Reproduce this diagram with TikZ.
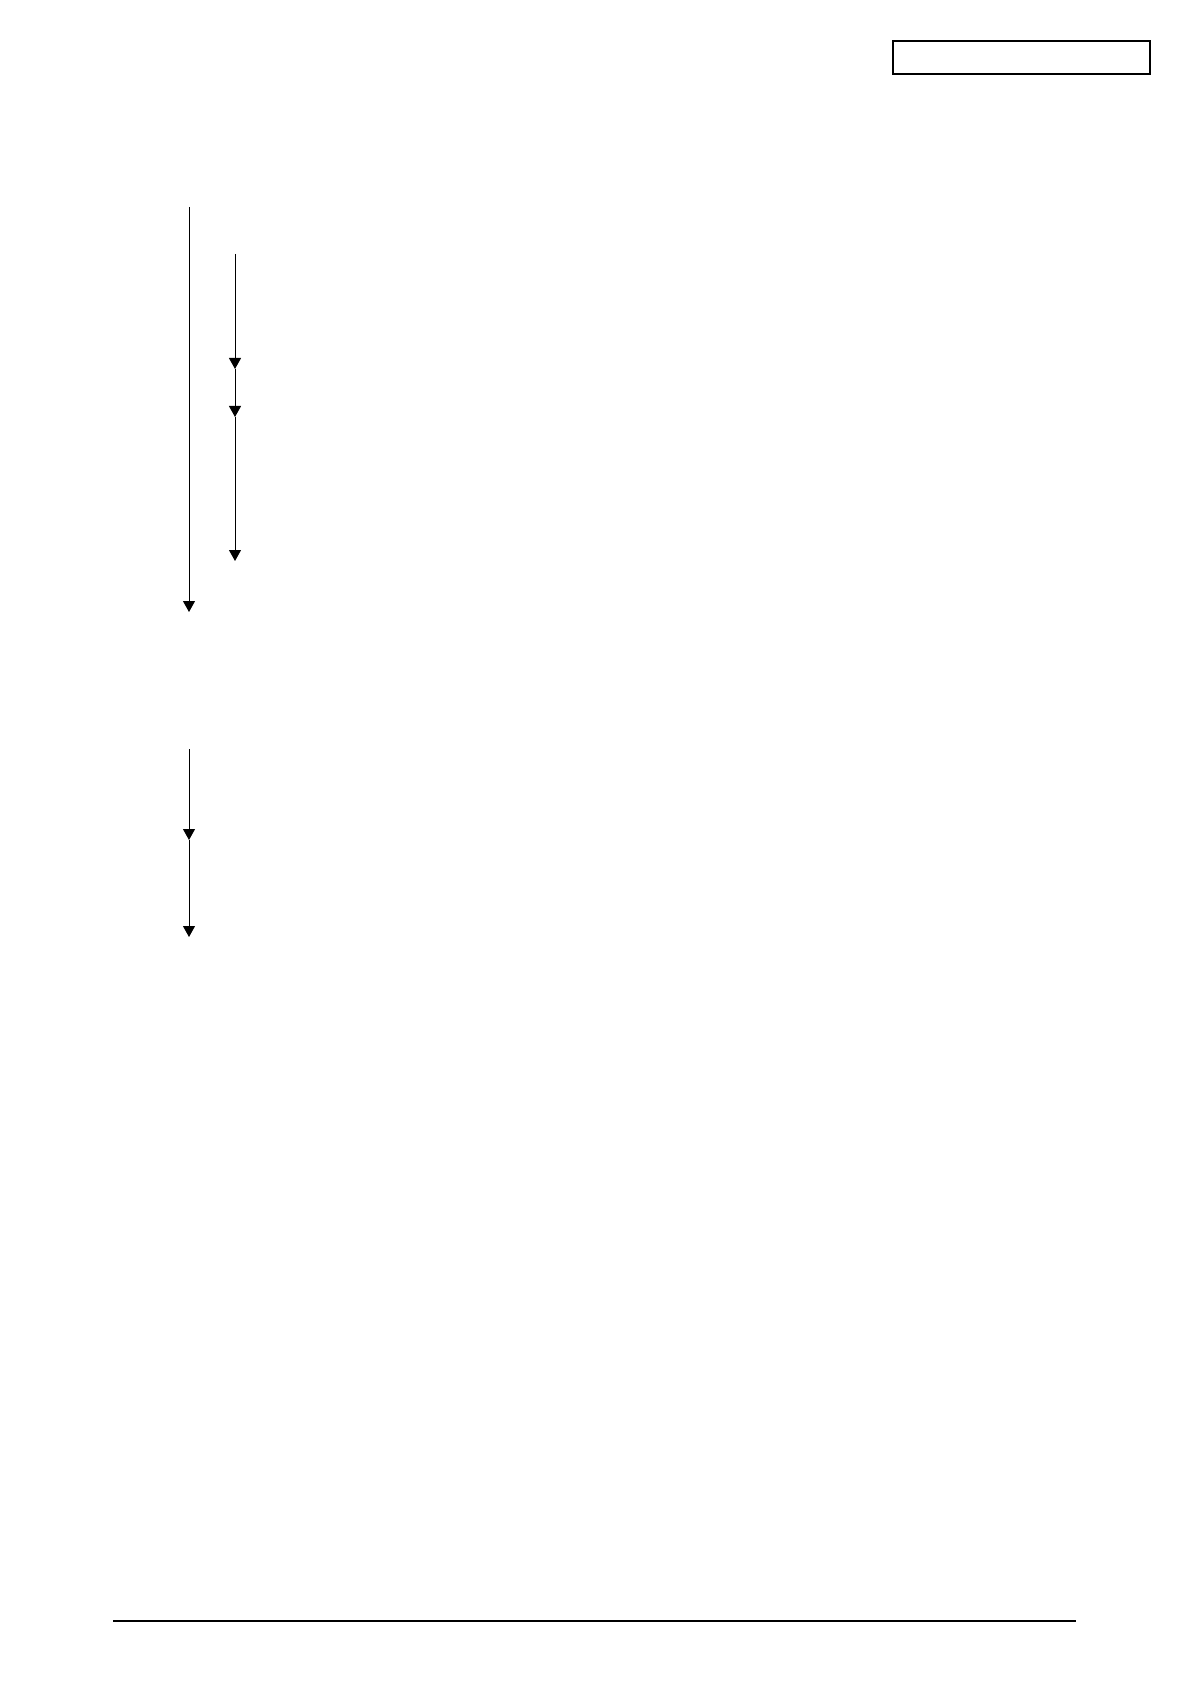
\documentclass[tikz,border=0pt]{standalone}
\usetikzlibrary{arrows.meta}
\begin{document}
\begin{tikzpicture}[x=0.5pt,y=-0.5pt]

%%%%%%%%%%%%%%%%%%%%%%
%%%	 Def géométrie  %%%
%%%%%%%%%%%%%%%%%%%%%%

\def \largeur{1190}
\def \hauteur{1684}
\def \xgauche{189}
\def \xdroite{235}
\def \ypied{1621}

%%%%%%%%%%%%%%%%%%%%%%
%%%	   Def style    %%%
%%%%%%%%%%%%%%%%%%%%%%

\def \heavy{0.7pt}
\def \light{0.5pt}

\tikzset{
  fleche/.style={line width=\light, -{Triangle[width=6pt,length=5.5pt]}},
  cartouche/.style={draw, line width=\heavy, inner sep=0pt, minimum width=128.5pt, minimum height=16.5pt}
}

\useasboundingbox (0,0) rectangle (\largeur,\hauteur);

%%%%%%%%%%%%%%%%%%%%%%
%%%	    Dessin      %%%
%%%%%%%%%%%%%%%%%%%%%%

% On dessine le cartouche en haut a droite
\node[cartouche] (C) at (1021.5,57.5) {};

% On place les points des fleches du premier groupe
\coordinate (A0) at (\xgauche,207);
\coordinate (A1) at (\xgauche,612);
\coordinate (B0) at (\xdroite,254);
\coordinate (B1) at (\xdroite,369);
\coordinate (B2) at (\xdroite,417);
\coordinate (B3) at (\xdroite,561);

\draw[fleche] (A0) -- (A1);
\draw[fleche] (B0) -- (B1);
\draw[fleche] (B1) -- (B2);
\draw[fleche] (B2) -- (B3);

% On place les points des fleches du second groupe
\coordinate (D0) at (\xgauche,749);
\coordinate (D1) at (\xgauche,840);
\coordinate (D2) at (\xgauche,937);

\draw[fleche] (D0) -- (D1);
\draw[fleche] (D1) -- (D2);

% On dessine le trait de pied de page
\coordinate (P0) at (113,\ypied);
\coordinate (P1) at (1076,\ypied);
\draw[line width=\heavy] (P0) -- (P1);

%%%%%%%%%%%%%%%%%%%%%%%%%%%%%%%%%%%%%%%%%

\end{tikzpicture}
\end{document}
